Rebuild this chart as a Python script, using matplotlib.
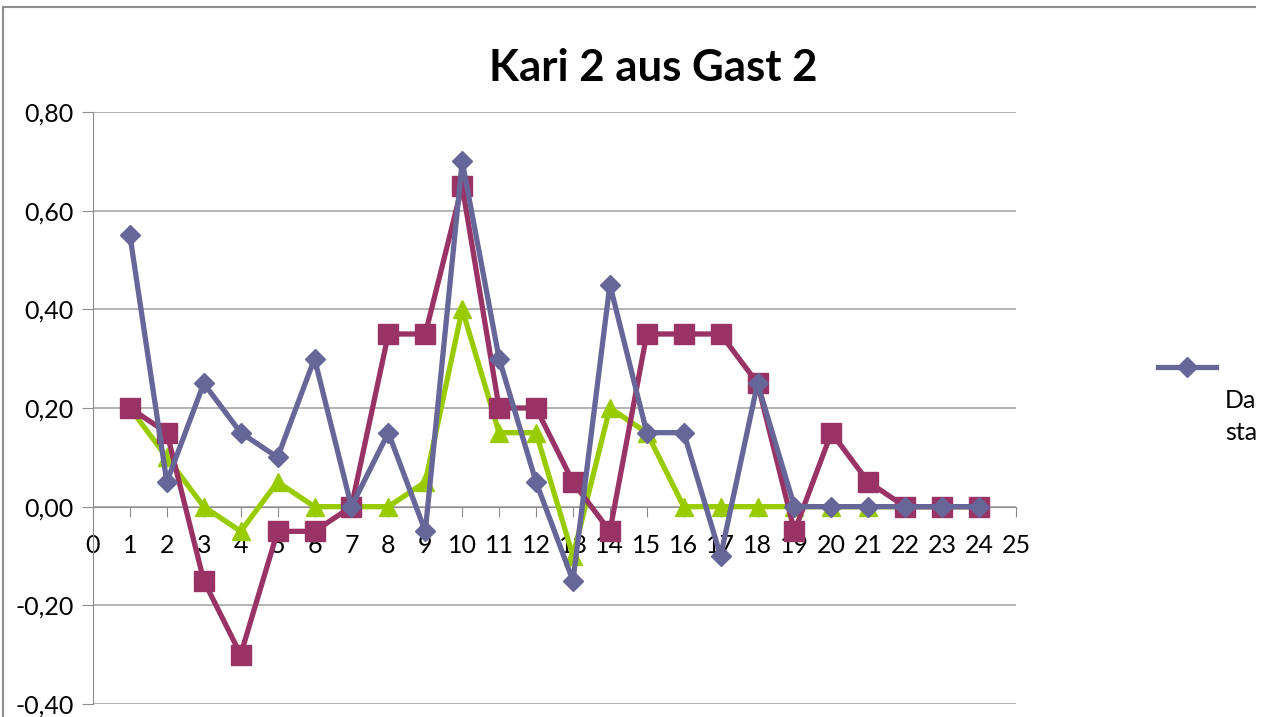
import matplotlib.pyplot as plt
from matplotlib.lines import Line2D
from matplotlib.ticker import FuncFormatter

plt.rcParams['font.family'] = ['Lato', 'DejaVu Sans']

x = list(range(1, 25))
blue = [0.55, 0.05, 0.25, 0.15, 0.10, 0.30, 0.00, 0.15, -0.05, 0.70, 0.30, 0.05,
        -0.15, 0.45, 0.15, 0.15, -0.10, 0.25, 0.00, 0.00, 0.00, 0.00, 0.00, 0.00]
maroon = [0.20, 0.15, -0.15, -0.30, -0.05, -0.05, 0.00, 0.35, 0.35, 0.65, 0.20, 0.20,
          0.05, -0.05, 0.35, 0.35, 0.35, 0.25, -0.05, 0.15, 0.05, 0.00, 0.00, 0.00]
green = [0.20, 0.10, 0.00, -0.05, 0.05, 0.00, 0.00, 0.00, 0.05, 0.40, 0.15, 0.15,
         -0.10, 0.20, 0.15, 0.00, 0.00, 0.00, 0.00, 0.00, 0.00, 0.00, 0.00, 0.00]
title = "Kari 2 aus Gast 2"

c_blue = '#666699'
c_maroon = '#993366'
c_green = '#99cc00'

fig = plt.figure(figsize=(12.68, 7.17), dpi=100)
ax = fig.add_axes([93/1268, 13/717, 923/1268, 592/717])

ax.plot(x, green, color=c_green, lw=3.8, marker='^', ms=13.5, zorder=3)
ax.plot(x, maroon, color=c_maroon, lw=3.8, marker='s', ms=14, zorder=4)
ax.plot(x, blue, color=c_blue, lw=3.8, marker='D', ms=10, zorder=5)

ax.set_xlim(0, 25)
ax.set_ylim(-0.4, 0.8)
ax.set_xticks(range(0, 26))
ax.set_yticks([-0.4, -0.2, 0.0, 0.2, 0.4, 0.6, 0.8])
ax.yaxis.set_major_formatter(FuncFormatter(lambda v, p: f"{v:.2f}".replace('.', ',')))
ax.yaxis.grid(True, color='#a6a6a6', lw=1.2)
ax.set_axisbelow(True)

for s in ['top', 'right']:
    ax.spines[s].set_visible(False)
ax.spines['bottom'].set_position(('data', 0))
ax.spines['bottom'].set_color('#8c8c8c')
ax.spines['left'].set_color('#8c8c8c')
ax.tick_params(axis='x', direction='out', length=7, color='#8c8c8c', labelsize=18, pad=13)
ax.tick_params(axis='y', direction='out', length=8, color='#8c8c8c', labelsize=18, pad=6)
ax.set_zorder(1)

fig.text(653/1268, 1 - 68/717, title, ha='center', va='center',
         fontsize=31.5, fontweight='bold')

# chart frame (image cropped on right)
fig.add_artist(Line2D([3/1268, 1255/1268], [1 - 7/717, 1 - 7/717], color='#8c8c8c', lw=1.5))
fig.add_artist(Line2D([3/1268, 3/1268], [0, 1 - 7/717], color='#8c8c8c', lw=1.5))

# legend (cut off at the right)
fig.add_artist(Line2D([1158/1268, 1216/1268], [1 - 367/717] * 2, color=c_blue, lw=3.8))
fig.add_artist(Line2D([1187/1268], [1 - 367/717], color=c_blue, marker='D', ms=10, lw=0))
fig.text(1225/1268, 1 - 400/717, "Da", ha='left', va='center', fontsize=18)
fig.text(1225/1268, 1 - 432/717, "sta", ha='left', va='center', fontsize=18)

fig.savefig('out.png', dpi=100)
